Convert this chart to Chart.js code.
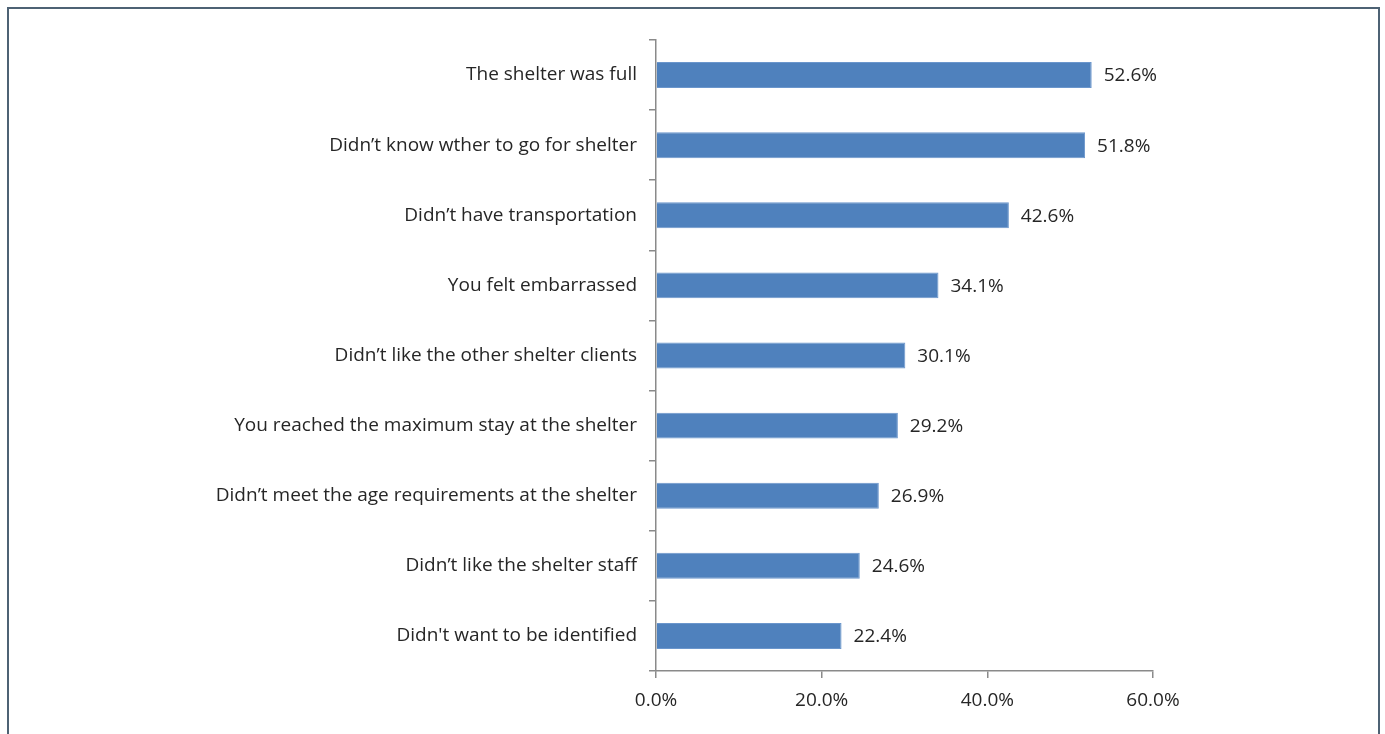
<!DOCTYPE html>
<html>
<head>
<meta charset="utf-8">
<script src="https://cdn.jsdelivr.net/npm/chart.js@4/dist/chart.umd.min.js"></script>
<style>
  html, body { margin: 0; padding: 0; background: #fff; }
  #frame {
    position: absolute; left: 7px; top: 7px; width: 1369px; height: 740px;
    border-top: 2px solid #4d6274; border-left: 2px solid #4d6274; border-right: 2px solid #4d6274;
  }
  #barChart { position: absolute; left: 0; top: 0; }
</style>
</head>
<body>
<div id="frame"></div>
<canvas id="barChart" width="1385" height="734"></canvas>
<script>
var reasons = [
    "The shelter was full",
    "Didn\u2019t know wther to go for shelter",
    "Didn\u2019t have transportation",
    "You felt embarrassed",
    "Didn\u2019t like the other shelter clients",
    "You reached the maximum stay at the shelter",
    "Didn\u2019t meet the age requirements at the shelter",
    "Didn\u2019t like the shelter staff",
    "Didn't want to be identified"
];
var percents = [52.6, 51.8, 42.6, 34.1, 30.1, 29.2, 26.9, 24.6, 22.4];
var xTicks = [0, 20, 40, 60];

var fontFamily = "'Open Sans', Lato, sans-serif";
var textColor = '#262626';
var axisColor = '#8a8a8a';

// value labels at the end of each bar
var valueLabels = {
    id: 'valueLabels',
    afterDatasetsDraw: function (chart) {
        var ctx = chart.ctx;
        var meta = chart.getDatasetMeta(0);
        ctx.save();
        ctx.font = '19px ' + fontFamily;
        ctx.fillStyle = textColor;
        ctx.textAlign = 'left';
        ctx.textBaseline = 'middle';
        meta.data.forEach(function (bar, i) {
            ctx.fillText(percents[i].toFixed(1) + '%', bar.x + 12, bar.y + 1);
        });
        ctx.restore();
    }
};

var barCanvas = document.getElementById('barChart').getContext('2d');

new Chart(barCanvas, {
    type: 'bar',
    data: {
        labels: reasons,
        datasets: [{
            data: percents,
            backgroundColor: '#4f81bd',
            borderColor: '#6b96cc',
            borderWidth: 1,
            borderSkipped: 'left',
            categoryPercentage: 1,
            barPercentage: 0.37
        }]
    },
    options: {
        indexAxis: 'y',
        responsive: false,
        animation: false,
        devicePixelRatio: 1,
        layout: { padding: { left: 0, right: 232, top: 40, bottom: 0 } },
        plugins: {
            legend: { display: false },
            tooltip: { enabled: false }
        },
        scales: {
            x: {
                min: 0,
                max: 60,
                afterBuildTicks: function (axis) {
                    axis.ticks = xTicks.map(function (v) { return { value: v }; });
                },
                afterFit: function (axis) { axis.height = 63; },
                border: { display: true, color: axisColor, width: 1.5 },
                grid: { drawOnChartArea: false, color: axisColor, tickLength: 7, lineWidth: 1.5 },
                ticks: {
                    color: textColor,
                    padding: 11,
                    font: { family: fontFamily, size: 19 },
                    callback: function (v) { return v.toFixed(1) + '%'; }
                }
            },
            y: {
                afterFit: function (axis) { axis.width = 656; },
                border: { display: true, color: axisColor, width: 1.5 },
                grid: { drawOnChartArea: false, color: axisColor, tickLength: 7, lineWidth: 1.5, offset: true },
                ticks: {
                    color: textColor,
                    padding: 12,
                    font: { family: fontFamily, size: 19 }
                }
            }
        }
    },
    plugins: [valueLabels]
});
</script>
</body>
</html>
